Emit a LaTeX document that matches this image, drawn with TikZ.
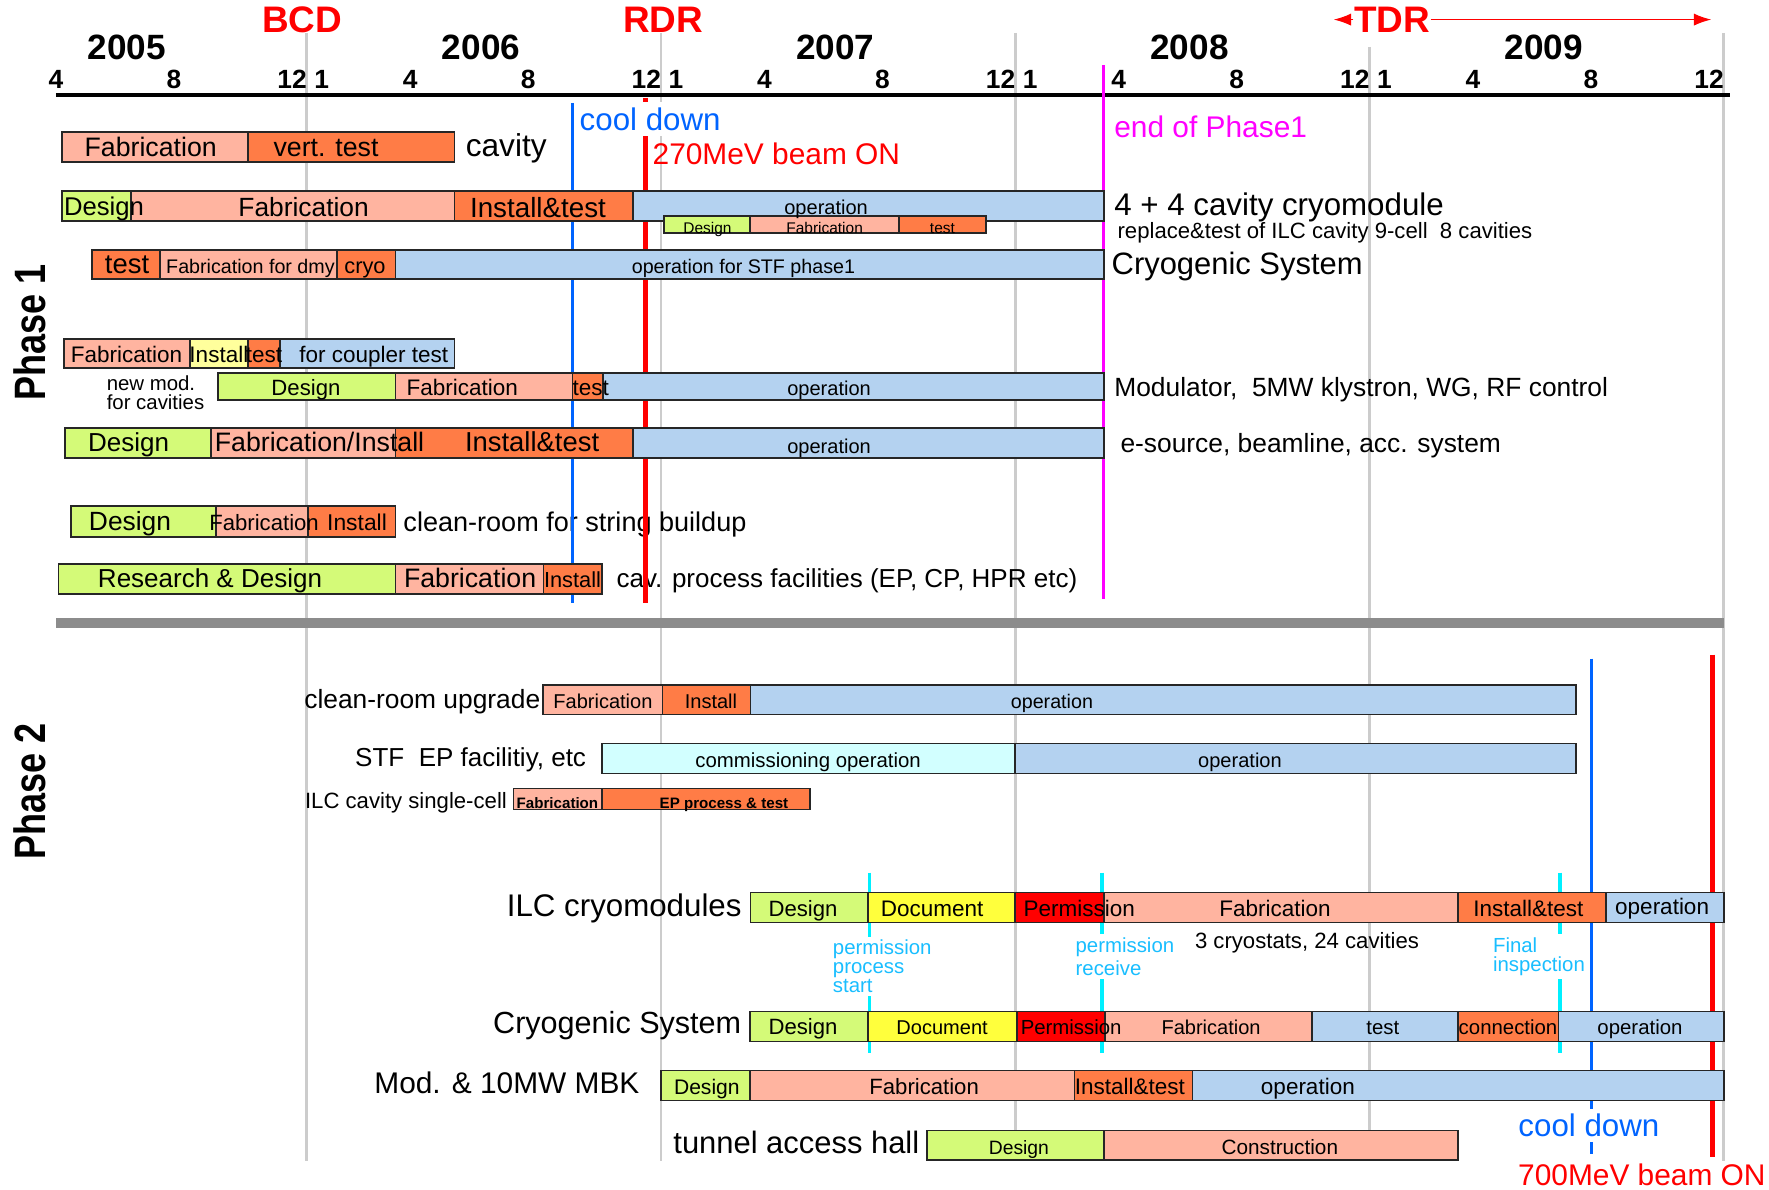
\documentclass[tikz,border=0pt]{standalone}
\usepackage{fontspec}
\setmainfont{Liberation Sans}
\usepackage{graphicx}
\usetikzlibrary{arrows.meta}
\definecolor{design}{HTML}{D4FA78}
\definecolor{fabric}{HTML}{FFB4A0}
\definecolor{install}{HTML}{FF7C46}
\definecolor{oper}{HTML}{B4D2F0}
\definecolor{softyel}{HTML}{FFFF9C}
\definecolor{document}{HTML}{FFFF3C}
\definecolor{permit}{HTML}{FF0000}
\definecolor{commis}{HTML}{D2FFFF}
\definecolor{cyanmark}{HTML}{00F0FF}
\definecolor{cyantext}{HTML}{19BEFF}
\definecolor{cool}{HTML}{0064FF}
\definecolor{beam}{HTML}{FF0000}
\definecolor{phaseend}{HTML}{FF00FF}
\definecolor{yearline}{HTML}{CCCCCC}
\definecolor{bandgray}{HTML}{8C8C8C}
\tikzset{
  bar/.style={draw=black!85, line width=0.5pt},
  fsz/.style={font=\fontsize{#1}{#1}\selectfont},
  bsz/.style={font=\fontsize{#1}{#1}\selectfont\bfseries},
  txt/.style={inner sep=0pt, anchor=mid},
  lab/.style={inner sep=0pt, anchor=mid west},
  rlab/.style={inner sep=0pt, anchor=mid east},
  note/.style={fill=white, inner sep=1pt, anchor=west, text=cyantext, align=left,
    font=\fontsize{5.8}{5.4}\selectfont}
}

\begin{document}
\begin{tikzpicture}[x=0.2952cm, y=-0.01cm]
  \useasboundingbox (1.6057,0) rectangle (61.531,1190);

  % years, months, milestones
  \foreach \t/\top in {12/33,24/33,36/33,48/47,60/33}
    \draw[yearline, line width=0.8pt] (\t,\top) -- (\t,1162);
  \draw[line width=1.1pt] (3.5,95) -- (60.2,95);
  \foreach \yr [count=\k from 0] in {2005,2006,2007,2008,2009}
    \node[txt, bsz=10] (y\yr) at ({12*\k+5.9},50) {\yr};
  \foreach \m in {4,8,12}
    \node[txt, bsz=7.5] (m0-\m) at ({\m-0.5},79) {\m};
  \foreach \k in {1,...,4}
    \foreach \m in {1,4,8,12}
      \node[txt, bsz=7.5] (m\k-\m) at ({12*\k+\m-0.5},79) {\m};
  \node[txt, bsz=10.5, text=beam] (bcd) at (11.84,23) {BCD};
  \node[txt, bsz=10.5, text=beam] (rdr) at (24.07,23) {RDR};
  \node[txt, bsz=10.5, text=beam] (tdr) at (48.76,23) {TDR};
  \coordinate (tdrL) at (46.78,23);
  \coordinate (tdrR) at (59.58,23);
  \draw[beam, line width=0.5pt, -{Latex[length=5pt,width=3.5pt]}] (tdr.west) -- (tdr.west -| tdrL);
  \draw[beam, line width=0.5pt, -{Latex[length=5pt,width=3.5pt]}] (tdr.east) -- (tdr.east -| tdrR);

  % row labels
  \node[lab, fsz=9] (cavity) at (17.36,147) {cavity};
  \node[lab, fsz=8.9] (cm) at (39.33,206) {4 + 4 cavity cryomodule};
  \node[lab, fsz=6.3] (cmnote) at (39.44,229) {replace\&test of ILC cavity 9-cell\ \ 8 cavities};
  \node[lab, fsz=8.8] (cryo1) at (39.24,265) {Cryogenic System};
  \node[inner sep=0pt, anchor=west, align=left, font=\fontsize{5.8}{5.4}\selectfont] (newmod) at (5.2,392.5) {new mod.\\for cavities};
  \node[lab, fsz=7.5] (modul) at (39.33,387) {Modulator,\ \ 5MW klystron, WG, RF control};
  \node[lab, fsz=7.5] (esrc) at (39.54,443) {e-source, beamline, acc. system};
  \node[lab, fsz=7.7] (string) at (15.25,522) {clean-room for string buildup};
  \node[lab, fsz=7.4] (cavproc) at (22.47,579) {cav. process facilities (EP, CP, HPR etc)};
  \node[rlab, fsz=7.5] (cru) at (19.93,700) {clean-room upgrade};
  \node[rlab, fsz=7.4] (stf) at (21.48,758) {STF\ \ EP facilitiy, etc};
  \node[rlab, fsz=6.3] (single) at (18.8,800) {ILC cavity single-cell};
  \node[rlab, fsz=8.9] (ilccm) at (26.75,908) {ILC cryomodules};
  \node[rlab, fsz=8.7] (cryo2) at (26.74,1025) {Cryogenic System};
  \node[rlab, fsz=8.5] (mbk) at (23.29,1085) {Mod. \& 10MW MBK};
  \node[rlab, fsz=8.8] (tunnel) at (32.77,1145) {tunnel access hall};
  \node[txt, fsz=6.3] (cryost) at (45.88,940) {3 cryostats, 24 cavities};

  % marker lines
  \draw[cool, line width=0.9pt] (20.99,103) -- (20.99,603);
  \draw[beam, line width=1.5pt] (23.47,98) -- (23.47,603);
  \draw[phaseend, line width=0.9pt] (39,65) -- (39,599);
  \fill[bandgray] (3.5,618) rectangle (60,628);
  \draw[cool, line width=0.9pt] (55.53,659) -- (55.53,1155);
  \draw[beam, line width=1.5pt] (59.62,655) -- (59.62,1158);
  \foreach \t in {31.06,38.93,54.45}
    \draw[cyanmark, line width=1pt] (\t,873) -- (\t,1054);

  % phase 1 bars
  \foreach \a/\b/\c in {3.7/10/fabric, 10/17/install}
    \draw[bar, fill=\c] (\a,132) rectangle (\b,162);
  \foreach \a/\b/\c in {3.7/6.04/design, 6.04/17/fabric, 17/23.05/install, 23.05/39/oper}
    \draw[bar, fill=\c] (\a,191) rectangle (\b,221);
  \foreach \a/\b/\c in {24.1/27/design, 27/32.05/fabric, 32.05/35/install}
    \draw[bar, fill=\c] (\a,216) rectangle (\b,233);
  \foreach \a/\b/\c in {4.72/7.02/install, 7.02/13.02/fabric, 13.02/15/install, 15/39/oper}
    \draw[bar, fill=\c] (\a,250) rectangle (\b,279);
  \foreach \a/\b/\c in {3.77/8.03/fabric, 8.03/10/softyel, 10/11.09/install, 11.09/17/oper}
    \draw[bar, fill=\c] (\a,339) rectangle (\b,368);
  \foreach \a/\b/\c in {9/15/design, 15/21/fabric, 21/22.02/install, 22.02/39/oper}
    \draw[bar, fill=\c] (\a,373) rectangle (\b,400);
  \foreach \a/\b/\c in {3.8/8.76/design, 8.76/15/fabric, 15/23.05/install, 23.05/39/oper}
    \draw[bar, fill=\c] (\a,428) rectangle (\b,458);
  \foreach \a/\b/\c in {4/8.93/design, 8.93/12.04/fabric, 12.04/15/install}
    \draw[bar, fill=\c] (\a,506) rectangle (\b,537);
  \foreach \a/\b/\c in {3.59/15/design, 15/20.02/fabric, 20.02/22/install}
    \draw[bar, fill=\c] (\a,564) rectangle (\b,594);

  % phase 2 bars
  \foreach \a/\b/\c in {20/24.05/fabric, 24.05/27.03/install, 27.03/55/oper}
    \draw[bar, fill=\c] (\a,685) rectangle (\b,715);
  \foreach \a/\b/\c in {22/36/commis, 36/55/oper}
    \draw[bar, fill=\c] (\a,744) rectangle (\b,774);
  \foreach \a/\b/\c in {19/22/fabric, 22/29.05/install}
    \draw[bar, fill=\c] (\a,789) rectangle (\b,810);
  \foreach \a/\b/\c in {27.03/31.02/design, 31.02/36/document, 36/39/permit, 39/51/fabric, 51/56/install, 56/60/oper}
    \draw[bar, fill=\c] (\a,893) rectangle (\b,923);
  \foreach \a/\b/\c in {27/31/design, 31/36.05/document, 36.05/39.05/permit, 39.05/46.05/fabric, 46.05/51/oper, 51/54.4/install, 54.4/60/oper}
    \draw[bar, fill=\c] (\a,1012) rectangle (\b,1042);
  \foreach \a/\b/\c in {24/27/design, 27/38/fabric, 38/42/install, 42/60/oper}
    \draw[bar, fill=\c] (\a,1071) rectangle (\b,1101);
  \foreach \a/\b/\c in {33/39/design, 39/51/fabric}
    \draw[bar, fill=\c] (\a,1131) rectangle (\b,1161);

  % phase 1 bar texts
  \node[txt, fsz=7.6] (cav-f) at (6.71,147) {Fabrication};
  \node[txt, fsz=7.6] (cav-v) at (12.65,147) {vert. test};
  \node[txt, fsz=7.3] (cm-d) at (5.13,206) {Design};
  \node[txt, fsz=7.5] (cm-f) at (11.89,207) {Fabrication};
  \node[txt, fsz=7.9] (cm-i) at (19.83,208) {Install\&test};
  \node[txt, fsz=5.7] (cm-o) at (29.59,205) {operation};
  \node[txt, fsz=4.4] (cm-sd) at (25.57,224.5) {Design};
  \node[txt, fsz=4.4] (cm-sf) at (29.54,224.5) {Fabrication};
  \node[txt, fsz=4.4] (cm-st) at (33.53,224.5) {test};
  \node[txt, fsz=7.8] (cr-t) at (5.91,264) {test};
  \node[txt, fsz=5.6] (cr-f) at (10.09,264) {Fabrication for dmy};
  \node[txt, fsz=6.2] (cr-c) at (13.97,264) {cryo};
  \node[txt, fsz=5.6] (cr-o) at (26.79,264) {operation for STF phase1};
  \node[txt, fsz=6.4] (cp-f) at (5.89,353) {Fabrication};
  \node[txt, fsz=6.4] (cp-i) at (9.02,353) {Install};
  \node[txt, fsz=6.4] (cp-t) at (10.55,353) {test};
  \node[txt, fsz=6.4] (cp-o) at (14.27,353) {for coupler test};
  \node[txt, fsz=6.3] (md-d) at (11.97,386) {Design};
  \node[lab, fsz=6.4] (md-f) at (15.36,386) {Fabrication};
  \node[txt, fsz=6.4] (md-t) at (21.62,386) {test};
  \node[txt, fsz=5.7] (md-o) at (29.69,386) {operation};
  \node[txt, fsz=7.4] (es-d) at (5.96,442) {Design};
  \node[lab, fsz=7.6] (es-f) at (8.86,442) {Fabrication/Install};
  \node[txt, fsz=7.8] (es-i) at (19.63,442) {Install\&test};
  \node[txt, fsz=5.7] (es-o) at (29.69,444) {operation};
  \node[txt, fsz=7.5] (st-d) at (6.01,521) {Design};
  \node[txt, fsz=6.3] (st-f) at (10.55,521) {Fabrication};
  \node[txt, fsz=6.5] (st-i) at (13.7,521) {Install};
  \node[txt, fsz=7.4] (pf-d) at (8.72,579) {Research \& Design};
  \node[txt, fsz=7.6] (pf-f) at (17.53,579) {Fabrication};
  \node[txt, fsz=6.2] (pf-i) at (21.0,579) {Install};

  % phase 2 bar texts
  \node[txt, fsz=5.7] (cu-f) at (22.03,700) {Fabrication};
  \node[txt, fsz=5.7] (cu-i) at (25.69,700) {Install};
  \node[txt, fsz=5.6] (cu-o) at (37.24,700) {operation};
  \node[txt, fsz=5.8] (ep-c) at (28.98,759) {commissioning operation};
  \node[txt, fsz=5.7] (ep-o) at (43.61,759) {operation};
  \node[txt, bsz=4.3] (sc-f) at (20.49,800) {Fabrication};
  \node[txt, bsz=4.3] (sc-e) at (26.13,800) {EP process \& test};
  \node[txt, fsz=6.3] (il-d) at (28.81,908) {Design};
  \node[txt, fsz=6.4] (il-doc) at (33.18,908) {Document};
  \node[lab, fsz=6.4] (il-p) at (36.26,908) {Permission};
  \node[txt, fsz=6.4] (il-f) at (44.8,908) {Fabrication};
  \node[txt, fsz=6.4] (il-i) at (53.38,908) {Install\&test};
  \node[txt, fsz=6.4] (il-o) at (57.91,906) {operation};
  \node[txt, fsz=6.3] (cs-d) at (28.81,1026) {Design};
  \node[txt, fsz=5.7] (cs-doc) at (33.52,1026) {Document};
  \node[lab, fsz=5.8] (cs-p) at (36.16,1026) {Permission};
  \node[txt, fsz=5.7] (cs-f) at (42.63,1026) {Fabrication};
  \node[txt, fsz=5.8] (cs-t) at (48.45,1026) {test};
  \node[txt, fsz=5.8] (cs-c) at (52.69,1026) {connection};
  \node[txt, fsz=5.8] (cs-o) at (57.16,1026) {operation};
  \node[txt, fsz=6] (mb-d) at (25.55,1086) {Design};
  \node[txt, fsz=6.3] (mb-f) at (32.91,1086) {Fabrication};
  \node[txt, fsz=6.4] (mb-i) at (39.88,1086) {Install\&test};
  \node[txt, fsz=6.4] (mb-o) at (45.91,1086) {operation};
  \node[txt, fsz=5.5] (tu-d) at (36.12,1146) {Design};
  \node[txt, fsz=5.9] (tu-c) at (44.96,1146) {Construction};

  % marker texts
  \node[lab, fsz=8.9, text=cool, fill=white, inner ysep=1.5pt] (cool1) at (21.22,121) {cool down};
  \node[lab, fsz=8.5, text=beam] (beam1) at (23.69,155) {270MeV beam ON};
  \node[lab, fsz=8.5, text=phaseend] (endp1) at (39.33,128) {end of Phase1};
  \node[txt, fsz=8.9, text=cool, fill=white, inner ysep=1.5pt] (cool2) at (55.43,1128) {cool down};
  \node[lab, fsz=8.5, text=beam] (beam2) at (53.01,1177) {700MeV beam ON};
  \node[note] (pstart) at (29.68,967) {permission\\process\\start};
  \node[note] (precv) at (37.9,957) {permission\\receive};
  \node[note] (finsp) at (52.04,957.5) {Final\\inspection};

  % phases
  \node[rotate=90, bsz=12.5] (ph1) at (2.62,333) {\scalebox{0.82}[1]{Phase 1}};
  \node[rotate=90, bsz=12.5] (ph2) at (2.62,792) {\scalebox{0.82}[1]{Phase 2}};
\end{tikzpicture}
\end{document}
